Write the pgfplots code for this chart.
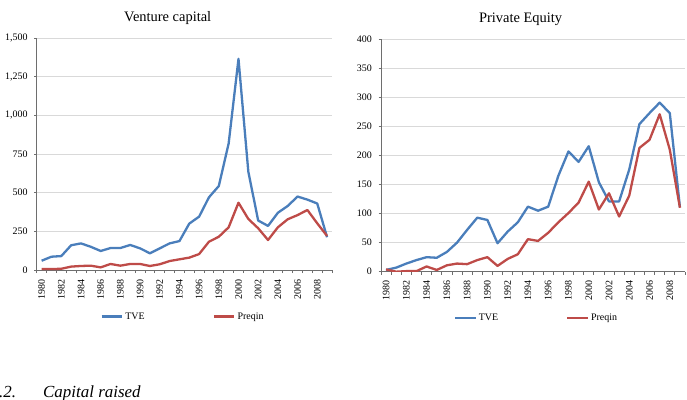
\documentclass[border=0pt]{standalone}
\usepackage{pgfplots}
\usepackage{pgfplotstable}
\pgfplotsset{compat=1.18}
\usepackage{fontspec}
\setmainfont{Liberation Serif}

\definecolor{tveblue}{HTML}{4A7EBB}
\definecolor{preqinred}{HTML}{BE4B48}
\definecolor{gridgray}{HTML}{D9D9D9}
\definecolor{axisgray}{HTML}{6E6E6E}

% Capital raised per year (x = year - 1980)
\pgfplotstableread{
x  tve   preqin
0  60    6
1  86    6
2  90    8
3  160   22
4  172   26
5  150   28
6  123   17
7  142   39
8  142   28
9  162   39
10 140   39
11 108   26
12 140   37
13 172   58
14 187   69
15 300   80
16 345   103
17 470   183
18 543   215
19 818   276
20 1365  435
21 635   330
22 320   270
23 285   194
24 370   276
25 414   328
26 475   355
27 455   388
28 430   302
29 212   220
}\venturedata

\pgfplotstableread{
x  tve   preqin
0  3     4
1  7     0
2  14    1
3  20    1
4  25    9
5  24    3
6  34    11
7  50    14
8  72    13
9  93    20
10 89    25
11 49    10
12 69    22
13 85    30
14 112   56
15 105   53
16 112   67
17 165   85
18 207   101
19 189   119
20 216   155
21 154   107
22 121   135
23 121   95
24 176   131
25 254   213
26 273   227
27 291   271
28 273   210
29 111   110
}\equitydata

\pgfplotsset{
  panel/.style={
    scale only axis,
    axis x line*=bottom,
    axis y line*=left,
    axis line style={axisgray, line width=0.9bp},
    xmin=-0.5, xmax=29.5,
    ymin=0,
    xtick={0,2,4,6,8,10,12,14,16,18,20,22,24,26,28},
    xticklabels={1980,1982,1984,1986,1988,1990,1992,1994,1996,1998,2000,2002,2004,2006,2008},
    minor xtick={-0.5,0.5,...,29.5},
    every major x tick/.append style={opacity=0},
    tick align=outside,
    major tick length=2.5bp,
    minor tick length=3bp,
    tick style={axisgray, line width=0.8bp},
    ymajorgrids,
    grid style={gridgray, line width=0.75bp},
    tick label style={font=\fontsize{10}{12}\selectfont},
    yticklabel style={/pgf/number format/1000 sep={,}, inner sep=0pt, xshift=-6.5bp},
    /pgf/number format/assume math mode=true,
    xticklabel style={rotate=90, anchor=east, inner xsep=6.5bp, inner ysep=0pt},
    title style={font=\fontsize{14.5}{16}\selectfont, anchor=center, yshift=14bp},
    legend style={draw=none, fill=none, font=\fontsize{10}{12}\selectfont,
      anchor=center, inner sep=0pt,
      /tikz/every even column/.append style={column sep=66bp}},
    legend columns=2,
    legend image code/.code={\draw[#1] (0bp,0bp) -- (20.6bp,0bp);},
    every axis plot/.append style={line width=2.3bp, line join=round, mark=none},
  },
}

\begin{document}
\begin{tikzpicture}
\useasboundingbox (0,0) rectangle (687bp,-400bp);

\begin{axis}[panel,
  at={(36.7bp,-270bp)}, anchor=south west,
  width=295.3bp, height=232bp,
  ymax=1500, ytick={0,250,...,1500},
  title={Venture capital}, title style={at={(0.4436,1)}},
  legend style={at={(0.4954,-0.201)}},
]
\addplot[tveblue] table[x=x, y=tve] {\venturedata};
\addplot[preqinred] table[x=x, y=preqin] {\venturedata};
\legend{TVE, Preqin}
\end{axis}

\begin{axis}[panel,
  at={(381bp,-271.7bp)}, anchor=south west,
  width=304bp, height=232.4bp,
  ymax=400, ytick={0,50,...,400},
  title={Private Equity}, title style={at={(0.459,1)}},
  legend style={at={(0.5115,-0.2)}},
]
\addplot[tveblue] table[x=x, y=tve] {\equitydata};
\addplot[preqinred] table[x=x, y=preqin] {\equitydata};
\legend{TVE, Preqin}
\end{axis}

\node[anchor=base west, inner sep=0pt, font=\fontsize{17}{20}\selectfont\itshape]
  at (-1bp,-397bp) {.2.};
\node[anchor=base west, inner sep=0pt, font=\fontsize{17}{20}\selectfont\itshape]
  at (43bp,-397bp) {Capital raised};
\end{tikzpicture}
\end{document}
